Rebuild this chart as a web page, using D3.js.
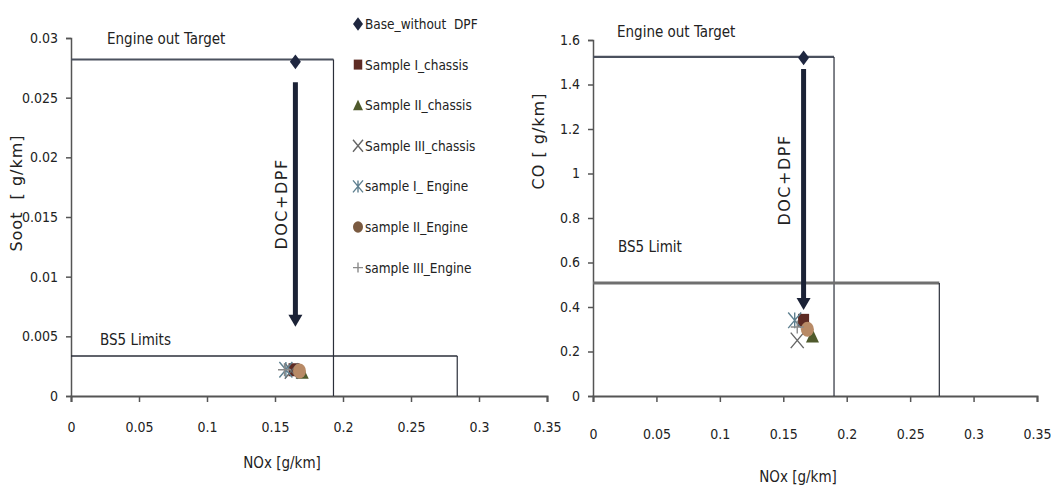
<!DOCTYPE html>
<html>
<head>
<meta charset="utf-8">
<script src="https://cdn.jsdelivr.net/npm/d3@7"></script>
<style>
  html, body { margin: 0; padding: 0; background: #fff; }
  svg { display: block; }
  .tick text { font-family: "DejaVu Sans Condensed", "Liberation Sans", sans-serif; font-size: 14px; fill: #222; }
  .note { font-family: "DejaVu Sans Condensed", sans-serif; font-size: 15px; fill: #222; }
  .ytitle { font-family: "DejaVu Sans", Verdana, sans-serif; font-size: 16px; fill: #222; white-space: pre; }
  .legend text { font-family: "DejaVu Sans Condensed", sans-serif; font-size: 13.5px; fill: #222; white-space: pre; }
</style>
</head>
<body>
<svg id="chart" width="1051" height="491"></svg>
<script>
// Series shown in both panels
const seriesNames = ["Base_without  DPF", "Sample I_chassis", "Sample II_chassis", "Sample III_chassis",
                     "sample I_ Engine", "sample II_Engine", "sample III_Engine"];
const seriesShapes = ["diamond", "square", "triangle", "cross", "star", "circle", "plus"];
const seriesColors = ["#1f2740", "#5e2b24", "#4f5a2c", "#666666", "#5f8090", "#b88a66", "#8a8a8a"];

// Soot vs NOx
const sootNox = [0.165, 0.164, 0.170, 0.162, 0.158, 0.168, 0.157];
const sootVal = [0.0280, 0.0022, 0.0020, 0.0021, 0.0022, 0.0021, 0.0022];
// CO vs NOx
const coNox = [0.166, 0.166, 0.173, 0.161, 0.159, 0.169, 0.161];
const coVal = [1.52, 0.34, 0.27, 0.25, 0.34, 0.30, 0.31];

// Target / limit boxes  [NOx, value]
const sootTarget = [0.193, 0.0282];
const sootLimit = [0.284, 0.00335];
const coTarget = [0.190, 1.524];
const coLimit = [0.273, 0.508];

// DOC+DPF reduction arrows  [NOx, from, to]
const sootArrow = [0.165, 0.0263, 0.0058];
const coArrow = [0.166, 1.47, 0.386];

// Axis ticks
const noxTicks = [0, 0.05, 0.1, 0.15, 0.2, 0.25, 0.3, 0.35];
const sootTicks = [0, 0.005, 0.01, 0.015, 0.02, 0.025, 0.03];
const coTicks = [0, 0.2, 0.4, 0.6, 0.8, 1, 1.2, 1.4, 1.6];

const svg = d3.select("#chart");

function markerPath(shape, s) {
  const h = s / 2;
  switch (shape) {
    case "diamond": return `M0,${-h*1.35}L${h},0L0,${h*1.35}L${-h},0Z`;
    case "square": return `M${-h*0.85},${-h}H${h*0.85}V${h}H${-h*0.85}Z`;
    case "triangle": return `M0,${-h*1.1}L${h},${h}L${-h},${h}Z`;
    case "cross": return `M${-h},${-h*1.2}L${h},${h*1.2}M${h},${-h*1.2}L${-h},${h*1.2}`;
    case "star": return `M${-h},${-h*1.2}L${h},${h*1.2}M${h},${-h*1.2}L${-h},${h*1.2}M0,${-h*1.2}V${h*1.2}`;
    case "plus": return `M${-h},0H${h}M0,${-h}V${h}`;
    case "circle": return `M${h},0A${h},${h*1.15} 0 1,1 ${-h},0A${h},${h*1.15} 0 1,1 ${h},0Z`;
  }
}
function isStroke(shape) { return shape === "cross" || shape === "star" || shape === "plus"; }

function drawMarker(g, shape, color, x, y, s) {
  g.append("path")
    .attr("d", markerPath(shape, s))
    .attr("transform", `translate(${x},${y})`)
    .attr("fill", isStroke(shape) ? "none" : color)
    .attr("stroke", isStroke(shape) ? color : "none")
    .attr("stroke-width", isStroke(shape) ? 1.4 : 0);
}

function panel(opt) {
  const g = svg.append("g");
  const x = d3.scaleLinear().domain([0, 0.35]).range(opt.xRange);
  const y = d3.scaleLinear().domain(opt.yDomain).range(opt.yRange);

  // Axes
  const xa = g.append("g").attr("transform", `translate(0,${y(0)})`)
    .call(d3.axisBottom(x).tickValues(noxTicks).tickFormat(d3.format("~g")).tickSize(6).tickPadding(opt.xPad));
  xa.select(".domain").attr("stroke", "#555").attr("stroke-width", 2);
  xa.selectAll(".tick line").attr("stroke", "#555").attr("stroke-width", 1.5);

  const ya = g.append("g").attr("transform", `translate(${x(0)},0)`)
    .call(d3.axisLeft(y).tickValues(opt.yTicks).tickFormat(d3.format("~g")).tickSize(5).tickPadding(8));
  ya.select(".domain").attr("stroke", "#555").attr("stroke-width", 1.5);
  ya.selectAll(".tick line").attr("stroke", "#555").attr("stroke-width", 1.5);

  // Target box
  g.append("line").attr("x1", x(0)).attr("x2", x(opt.target[0]))
    .attr("y1", y(opt.target[1])).attr("y2", y(opt.target[1]))
    .attr("stroke", "#4b515e").attr("stroke-width", 2.2);
  g.append("line").attr("x1", x(opt.target[0])).attr("x2", x(opt.target[0]))
    .attr("y1", y(opt.target[1])).attr("y2", y(0))
    .attr("stroke", "#2b2f3a").attr("stroke-width", 1.2);

  // Limit box
  g.append("line").attr("x1", x(0)).attr("x2", x(opt.limit[0]))
    .attr("y1", y(opt.limit[1])).attr("y2", y(opt.limit[1]))
    .attr("stroke", opt.limitColor).attr("stroke-width", opt.limitWidth);
  g.append("line").attr("x1", x(opt.limit[0])).attr("x2", x(opt.limit[0]))
    .attr("y1", y(opt.limit[1])).attr("y2", y(0))
    .attr("stroke", "#2b2f3a").attr("stroke-width", 1.2);

  // Reduction arrow
  const ax = x(opt.arrow[0]), ay1 = y(opt.arrow[1]), ay2 = y(opt.arrow[2]);
  g.append("line").attr("x1", ax).attr("x2", ax).attr("y1", ay1).attr("y2", ay2 - 10)
    .attr("stroke", "#1b2236").attr("stroke-width", 5);
  g.append("path").attr("d", `M${ax - 7},${ay2 - 12}L${ax + 7},${ay2 - 12}L${ax},${ay2}Z`).attr("fill", "#1b2236");

  // Points
  opt.nox.forEach((v, i) => {
    if (i === 0) return;
    drawMarker(g, seriesShapes[i], seriesColors[i], x(v), y(opt.vals[i]), 13);
  });
  drawMarker(g, seriesShapes[0], seriesColors[0], x(opt.nox[0]), y(opt.vals[0]), 11);

  // Text
  g.append("text").attr("class", "note").attr("x", opt.targetLabel[0]).attr("y", opt.targetLabel[1]).text("Engine out Target");
  g.append("text").attr("class", "note").attr("x", opt.limitLabel[0]).attr("y", opt.limitLabel[1]).text(opt.limitText);
  g.append("text").attr("class", "ytitle").attr("text-anchor", "middle").attr("letter-spacing", 1.5)
    .attr("transform", `translate(${opt.docPos[0]},${opt.docPos[1]}) rotate(-90)`).text("DOC+DPF");
  g.append("text").attr("class", "ytitle").attr("text-anchor", "middle").attr("letter-spacing", 1)
    .attr("transform", `translate(${opt.yTitlePos[0]},${opt.yTitlePos[1]}) rotate(-90)`).text(opt.yTitle);
  g.append("text").attr("class", "note").attr("text-anchor", "middle")
    .attr("x", opt.xTitlePos[0]).attr("y", opt.xTitlePos[1]).text("NOx [g/km]");
  return { x, y };
}

panel({
  xRange: [71, 547], yDomain: [0, 0.03], yRange: [396, 38], yTicks: sootTicks,
  target: sootTarget, limit: sootLimit, limitColor: "#2b2f3a", limitWidth: 1.5,
  arrow: sootArrow, nox: sootNox, vals: sootVal,
  targetLabel: [107, 44], limitLabel: [100, 345], limitText: "BS5 Limits",
  docPos: [287, 204], yTitlePos: [22, 193], yTitle: "Soot  [ g/km]",
  xTitlePos: [282, 468], xPad: 20
});

panel({
  xRange: [593, 1037], yDomain: [0, 1.6], yRange: [396, 40], yTicks: coTicks,
  target: coTarget, limit: coLimit, limitColor: "#6f6f6f", limitWidth: 3,
  arrow: coArrow, nox: coNox, vals: coVal,
  targetLabel: [617, 37], limitLabel: [618, 252], limitText: "BS5 Limit",
  docPos: [790, 180], yTitlePos: [544, 141], yTitle: "CO [ g/km]",
  xTitlePos: [798, 482], xPad: 27
});

// Legend
const legend = svg.append("g").attr("class", "legend");
seriesNames.forEach((name, i) => {
  const ly = 24 + i * 40.6;
  drawMarker(legend, seriesShapes[i], i === 5 ? "#7a5a40" : seriesColors[i], 358, ly, 10);
  legend.append("text").attr("x", 365).attr("y", ly + 5).text(name);
});
</script>
</body>
</html>
